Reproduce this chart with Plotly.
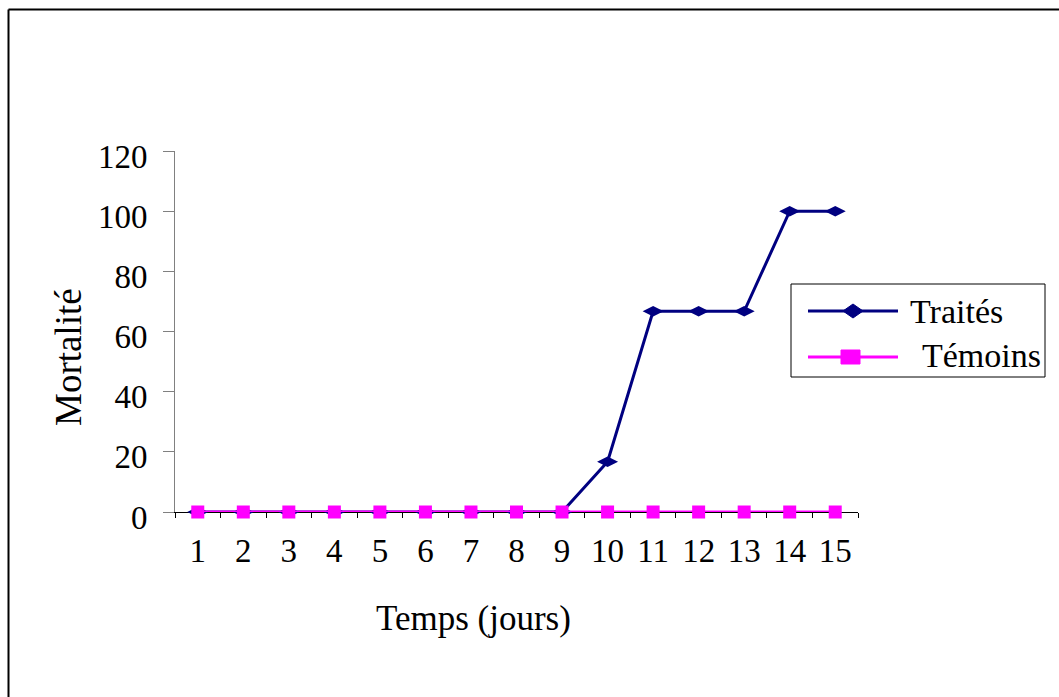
import plotly.graph_objects as go

jours = [str(i) for i in range(1, 16)]
traites = [0, 0, 0, 0, 0, 0, 0, 0, 0, 16.7, 66.7, 66.7, 66.7, 100, 100]
temoins = [0, 0, 0, 0, 0, 0, 0, 0, 0, 0, 0, 0, 0, 0, 0]
y_ticks = [0, 20, 40, 60, 80, 100, 120]

W, H = 1059, 697
ML, MR, MT, MB = 175, 201, 151, 185
PW, PH = W - ML - MR, H - MT - MB
FONT = "Liberation Serif, Times New Roman, serif"
NAVY = "#000080"
MAG = "#FF00FF"


def px(x):
    return (x - ML) / PW


def py(y):
    return (H - MB - y) / PH


fig = go.Figure()
fig.add_trace(go.Scatter(x=jours, y=traites, mode="lines+markers", name="Traités",
                         line=dict(color=NAVY, width=3),
                         marker=dict(symbol="diamond-wide", size=15, color=NAVY),
                         cliponaxis=False, showlegend=False))
fig.add_trace(go.Scatter(x=jours, y=temoins, mode="lines+markers", name="Témoins",
                         line=dict(color=MAG, width=3),
                         marker=dict(symbol="square", size=13, color=MAG),
                         cliponaxis=False, showlegend=False))

shapes = []
# outer frame (left and top edges visible)
shapes.append(dict(type="line", xref="paper", yref="paper", x0=px(8.5), x1=px(8.5), y0=py(H + 20), y1=py(9.5),
                   line=dict(color="#000000", width=2)))
shapes.append(dict(type="line", xref="paper", yref="paper", x0=px(8.5), x1=px(W + 20), y0=py(9.5), y1=py(9.5),
                   line=dict(color="#000000", width=2)))
# legend box
shapes.append(dict(type="rect", xref="paper", yref="paper", x0=px(791), x1=px(1045), y0=py(377), y1=py(284),
                   line=dict(color="#000000", width=1), fillcolor="white"))
# legend samples
shapes.append(dict(type="line", xref="paper", yref="paper", x0=px(808), x1=px(898), y0=py(311), y1=py(311),
                   line=dict(color=NAVY, width=3)))
cx, cy = 853, 311
shapes.append(dict(type="path", xref="paper", yref="paper",
                   path=f"M {px(cx-10)},{py(cy)} L {px(cx)},{py(cy-7)} L {px(cx+10)},{py(cy)} L {px(cx)},{py(cy+7)} Z",
                   fillcolor=NAVY, line=dict(color=NAVY, width=1)))
shapes.append(dict(type="line", xref="paper", yref="paper", x0=px(808), x1=px(898), y0=py(357), y1=py(357),
                   line=dict(color=MAG, width=3)))
shapes.append(dict(type="rect", xref="paper", yref="paper", x0=px(841), x1=px(860), y0=py(364), y1=py(350),
                   fillcolor=MAG, line=dict(color=MAG, width=1)))

annotations = [
    dict(text="Traités", xref="paper", yref="paper", x=px(908), y=py(311), xanchor="left", yanchor="middle",
         showarrow=False, font=dict(family=FONT, size=34, color="black")),
    dict(text="Témoins", xref="paper", yref="paper", x=px(920), y=py(355), xanchor="left", yanchor="middle",
         showarrow=False, font=dict(family=FONT, size=34, color="black")),
    dict(text="Temps (jours)", xref="paper", yref="paper", x=px(473), y=py(618), xanchor="center", yanchor="middle",
         showarrow=False, font=dict(family=FONT, size=35, color="black")),
    dict(text="Mortalité", xref="paper", yref="paper", x=px(68), y=py(357), xanchor="center", yanchor="middle",
         textangle=-90, showarrow=False, font=dict(family=FONT, size=37, color="black")),
]

fig.update_layout(
    width=W, height=H,
    margin=dict(l=ML, r=MR, t=MT, b=MB, pad=0),
    paper_bgcolor="white", plot_bgcolor="white",
    font=dict(family=FONT, size=32, color="black"),
    showlegend=False,
    shapes=shapes,
    annotations=annotations,
    xaxis=dict(type="category", categoryorder="array", categoryarray=jours,
               range=[-0.5, 14.5], tickson="boundaries",
               showline=True, linecolor="black", linewidth=1,
               ticks="outside", ticklen=5, tickcolor="black", tickwidth=1,
               showgrid=False, zeroline=False, layer="below traces",
               tickfont=dict(family=FONT, size=33, color="black"), ticklabelstandoff=9),
    yaxis=dict(range=[0, 120], tickvals=y_ticks, ticktext=[str(v) for v in y_ticks],
               showline=True, linecolor="#808080", linewidth=1,
               ticks="outside", ticklen=11, tickcolor="#808080", tickwidth=1,
               showgrid=False, zeroline=False, layer="below traces",
               tickfont=dict(family=FONT, size=33, color="black"), ticklabelstandoff=9,
               ticklabelshift=5),
)

fig.write_html("out.html")
